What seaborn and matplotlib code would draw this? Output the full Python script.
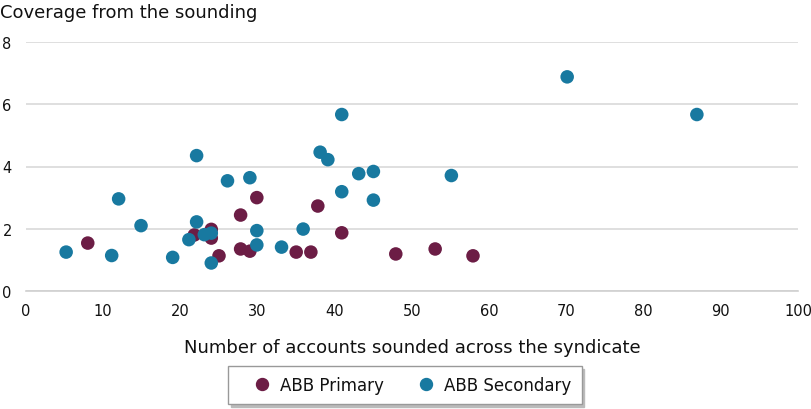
import pandas as pd
import matplotlib.pyplot as plt
import seaborn as sns

# ABB Primary
primary_x = [8, 21.8, 24, 24, 25, 27.8, 27.8, 29, 29.9, 35, 36.9, 37.8, 40.9, 47.9, 53, 57.9]
primary_y = [1.54, 1.8, 1.98, 1.7, 1.13, 2.44, 1.35, 1.28, 3.0, 1.25, 1.25, 2.73, 1.87, 1.19, 1.35, 1.13]

# ABB Secondary
secondary_x = [5.2, 11.1, 12.0, 14.9, 19.0, 21.1, 22.1, 22.1, 23.1, 24.0, 24.0, 26.1, 29.0, 29.9, 29.9,
               33.1, 35.9, 38.1, 39.1, 40.9, 40.9, 43.1, 45.0, 45.0, 55.1, 70.1, 86.9]
secondary_y = [1.25, 1.14, 2.96, 2.1, 1.08, 1.65, 2.22, 4.35, 1.81, 1.86, 0.9, 3.54, 3.64, 1.94, 1.48,
               1.41, 1.99, 4.46, 4.22, 3.19, 5.67, 3.77, 3.84, 2.92, 3.71, 6.88, 5.67]

series = ['ABB Primary', 'ABB Secondary']
colors = ['#6c1d45', '#1879a0']

df = pd.DataFrame({
    'x': primary_x + secondary_x,
    'y': primary_y + secondary_y,
    'series': [series[0]] * len(primary_x) + [series[1]] * len(secondary_x),
})

sns.set_style('white')
plt.rcParams['font.family'] = ['DejaVu Sans']

fig = plt.figure(figsize=(8.12, 4.10), dpi=100)
ax = fig.add_axes([26 / 812, 1 - 292 / 410, (798 - 26) / 812, (292 - 43) / 410])

sns.scatterplot(data=df, x='x', y='y', hue='series', palette=colors, hue_order=series,
                s=95, edgecolor='none', linewidth=0, ax=ax, legend=False, zorder=3)

ax.set_xlim(0, 100)
ax.set_ylim(0, 8)
ax.set_xticks(range(0, 101, 10))
ax.set_yticks(range(0, 9, 2))
ax.yaxis.grid(True, color='#d9d9d9', linewidth=1.2)
ax.xaxis.grid(False)
for side in ['left', 'right', 'top']:
    ax.spines[side].set_visible(False)
ax.spines['bottom'].set_color('#d0d0d0')
ax.spines['bottom'].set_linewidth(1.2)
ax.tick_params(axis='x', length=5, color='#d0d0d0', width=1.2, labelsize=10.5, labelcolor='#111111', pad=4)
ax.tick_params(axis='y', length=0, labelsize=10.5, labelcolor='#111111', pad=17)
for lbl in ax.get_yticklabels():
    lbl.set_horizontalalignment('left')
ax.set_xlabel('Number of accounts sounded across the syndicate', fontsize=13, color='#111111', labelpad=14)
ax.set_ylabel('')

fig.text(0.0, 1 - 13 / 410, 'Coverage from the sounding', fontsize=13, color='#111111', va='center', ha='left')

handles = [plt.Line2D([], [], marker='o', linestyle='None', color=c, markersize=8.6) for c in colors]
leg = fig.legend(handles, series, loc='center', bbox_to_anchor=(405 / 812, 1 - 386 / 410), ncol=2,
                 fontsize=12, frameon=True, fancybox=False, shadow={'color': '#bbbbbb', 'alpha': 1},
                 edgecolor='#999999', handletextpad=-0.36, columnspacing=1.08, borderpad=0.6,
                 handlelength=2.88, labelcolor='#111111')
leg.get_frame().set_linewidth(1.0)

fig.savefig('out.png', dpi=100)
